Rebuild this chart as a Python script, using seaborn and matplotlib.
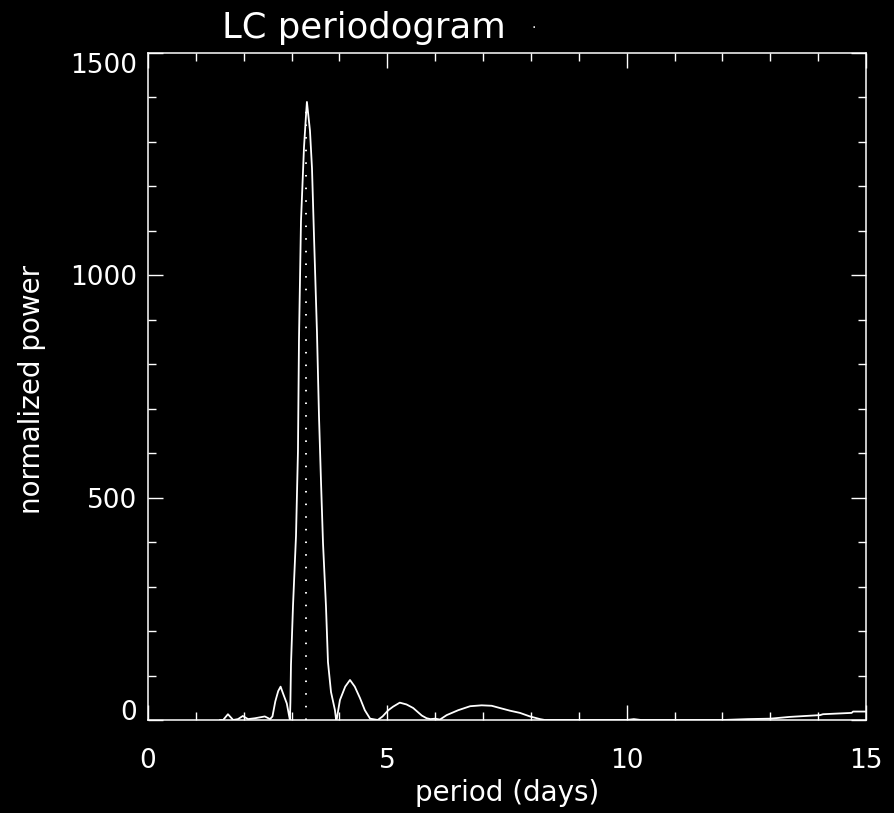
import numpy as np
import pandas as pd
import matplotlib
matplotlib.use("Agg")
import matplotlib.pyplot as plt
import seaborn as sns
from matplotlib.ticker import MultipleLocator

# ---- data ----
period = [1.50, 1.57, 1.67, 1.78, 1.88, 1.98, 2.09, 2.24, 2.44, 2.55, 2.60, 2.66,
          2.72, 2.77, 2.82, 2.90, 2.95, 2.965, 2.975, 2.987, 3.029, 3.092, 3.133,
          3.154, 3.196, 3.259, 3.301, 3.32, 3.384, 3.426, 3.468, 3.530, 3.572,
          3.614, 3.656, 3.718, 3.760, 3.823, 3.906, 3.93, 3.94, 4.01, 4.12, 4.22,
          4.32, 4.43, 4.53, 4.64, 4.80, 4.90, 5.02, 5.12, 5.26, 5.40, 5.54, 5.72,
          5.82, 5.90, 6.00, 6.10, 6.24, 6.48, 6.73, 6.97, 7.18, 7.35, 7.56, 7.77,
          7.98, 8.19, 8.29, 9.00, 10.00, 10.15, 10.30, 11.00, 12.00, 12.53, 13.00,
          13.41, 14.04, 14.10, 14.70, 14.73, 15.00]
power = [0, 0, 13, 0, 2, 9, 2, 4, 8, 2, 8, 42,
         65, 75, 60, 37, 8, 0, 40, 124, 256, 414, 605,
         854, 1122, 1288, 1360, 1390, 1325, 1241, 1088, 872, 684,
         537, 398, 256, 130, 63, 22, 0, 0, 45, 75, 90,
         75, 49, 22, 3, 0, 8, 22, 30, 39, 35, 27, 10,
         4, 2, 3, 1, 11, 22, 31, 33, 32, 27, 21, 16,
         8, 2, 0, 0, 0, 2, 0, 0, 0, 2, 3,
         7, 11, 13, 16, 19, 19]
peak_period = 3.30
peak_marker_top = 1380

title_text = "LC periodogram"
x_label = "period (days)"
y_label = "normalized power"
x_ticks = [0, 5, 10, 15]
y_ticks = [0, 500, 1000, 1500]

df = pd.DataFrame({"period": period, "power": power})

sns.set_theme(style="ticks")
plt.rcParams["font.family"] = ["DejaVu Sans"]
plt.rcParams["axes.edgecolor"] = "white"
plt.rcParams["text.color"] = "white"

fig = plt.figure(figsize=(8.94, 8.13), dpi=100, facecolor="black")
ax = fig.add_axes([148 / 894, 93 / 813, 718 / 894, 667 / 813])
ax.set_facecolor("black")

sns.lineplot(data=df, x="period", y="power", color="white", linewidth=1.3,
             estimator=None, sort=False, ax=ax)
sns.lineplot(x=[peak_period, peak_period], y=[0, peak_marker_top], color="white",
             linewidth=1.4, linestyle=(0, (0.8, 5.7)), estimator=None, ax=ax)

ax.set_xlim(0, 15)
ax.set_ylim(0, 1500)
ax.set_xticks(x_ticks)
ax.set_yticks(y_ticks)
ax.set_xticklabels([str(t) for t in x_ticks])
ax.set_yticklabels([str(t) for t in y_ticks])
ax.xaxis.set_minor_locator(MultipleLocator(1))
ax.yaxis.set_minor_locator(MultipleLocator(100))

for s in ax.spines.values():
    s.set_color("white")
    s.set_linewidth(1.1)
    s.set_visible(True)

ax.tick_params(which="both", direction="in", top=True, right=True,
               colors="white", width=1.0)
ax.tick_params(which="major", length=10.8, labelsize=19)
ax.tick_params(which="minor", length=5.8)
ax.tick_params(axis="x", which="major", pad=20)
ax.tick_params(axis="y", which="major", pad=8)

ax.set_xlabel(x_label, fontsize=20, color="white")
ax.set_ylabel(y_label, fontsize=20, color="white")
ax.xaxis.set_label_coords(0.5, -0.0885)
ax.yaxis.set_label_coords(-0.1616, 0.495)
ax.yaxis.label.set_va("center")
ax.xaxis.label.set_va("top")

yt = ax.yaxis.get_major_ticks()
yt[0].label1.set_va("baseline")
yt[-1].label1.set_va("top")

fig.text(222 / 894, 1 - 38 / 813, title_text, fontsize=25.5, color="white",
         ha="left", va="baseline")
fig.text(534 / 894, 1 - 28 / 813, "\u00b7", fontsize=10, color="white",
         ha="center", va="center")

fig.savefig("out.png", dpi=100, facecolor="black")
